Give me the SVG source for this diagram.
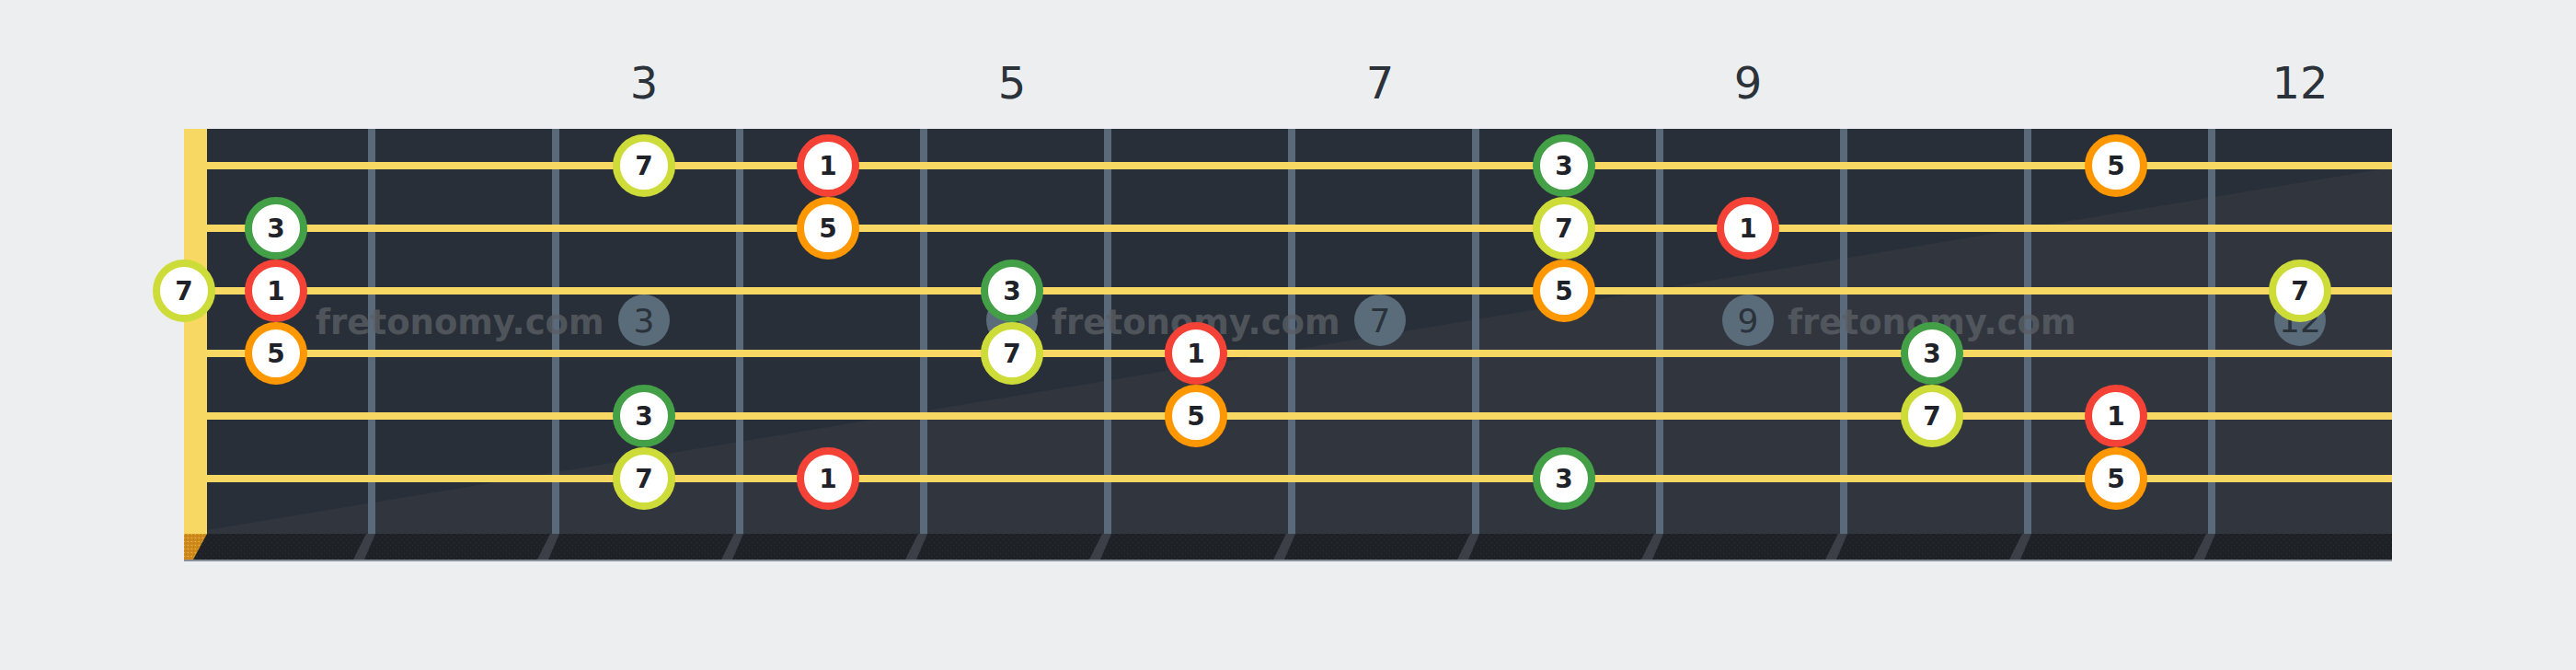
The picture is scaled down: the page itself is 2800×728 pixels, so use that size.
<svg xmlns="http://www.w3.org/2000/svg" width="2800" height="728" viewBox="0 0 2800 728">
<style>
.str{stroke:#f7d862;stroke-width:8}
.fret{fill:#5a6a7a}
.fshadow{fill:#3c4046}
.fnum{font-family:"DejaVu Sans",sans-serif;font-size:48px;fill:#2b323a;text-anchor:middle}
.wm{font-family:"DejaVu Sans",sans-serif;font-weight:bold;font-size:37px;fill:#5a5f66;fill-opacity:0.8}
.mk circle{fill:#5a6b7a}
.mk text{font-family:"DejaVu Sans",sans-serif;font-size:36px;fill:#2a323b;text-anchor:middle}
.note circle{fill:#ffffff;stroke-width:8}
.note text{font-family:"DejaVu Sans",sans-serif;font-weight:bold;font-size:28px;fill:#1f2329;text-anchor:middle}
.n1 circle{stroke:#f44336}
.n3 circle{stroke:#43a047}
.n5 circle{stroke:#ff9800}
.n7 circle{stroke:#cddc39}
</style>
<defs>
<pattern id="dots" width="6" height="6" patternUnits="userSpaceOnUse">
<rect width="6" height="6" fill="#1e2226"/>
<rect x="1" y="1" width="1" height="1" fill="#2c3036"/>
<rect x="4" y="4" width="1" height="1" fill="#2c3036"/>
</pattern>
<pattern id="wood" width="4" height="4" patternUnits="userSpaceOnUse">
<rect width="4" height="4" fill="#d08a1c"/>
<rect x="0" y="0" width="1" height="1" fill="#e8b830"/>
<rect x="2" y="2" width="1" height="1" fill="#b87420"/>
<rect x="3" y="0" width="1" height="1" fill="#c9a030"/>
</pattern>
</defs>
<rect width="2800" height="728" fill="#edeef0"/>
<g id="board">
<rect x="225" y="140" width="2375" height="440" fill="#292f38"/>
<polygon points="225,576 2600,182 2600,580 225,580" fill="#31363e"/>
<rect x="200" y="580" width="2400" height="28" fill="url(#dots)"/>
<rect x="200" y="608" width="2400" height="2" fill="#8a9099"/>
<polygon points="200,580 225,580 210,608 200,608" fill="url(#wood)"/>
</g>
<g id="frets">
<rect class="fret" x="400" y="140" width="8" height="440"/>
<rect class="fret" x="600" y="140" width="8" height="440"/>
<rect class="fret" x="800" y="140" width="8" height="440"/>
<rect class="fret" x="1000" y="140" width="8" height="440"/>
<rect class="fret" x="1200" y="140" width="8" height="440"/>
<rect class="fret" x="1400" y="140" width="8" height="440"/>
<rect class="fret" x="1600" y="140" width="8" height="440"/>
<rect class="fret" x="1800" y="140" width="8" height="440"/>
<rect class="fret" x="2000" y="140" width="8" height="440"/>
<rect class="fret" x="2200" y="140" width="8" height="440"/>
<rect class="fret" x="2400" y="140" width="8" height="440"/>
<polygon class="fshadow" points="398,580 408,580 396,608 384,608"/>
<polygon class="fshadow" points="598,580 608,580 596,608 584,608"/>
<polygon class="fshadow" points="798,580 808,580 796,608 784,608"/>
<polygon class="fshadow" points="998,580 1008,580 996,608 984,608"/>
<polygon class="fshadow" points="1198,580 1208,580 1196,608 1184,608"/>
<polygon class="fshadow" points="1398,580 1408,580 1396,608 1384,608"/>
<polygon class="fshadow" points="1598,580 1608,580 1596,608 1584,608"/>
<polygon class="fshadow" points="1798,580 1808,580 1796,608 1784,608"/>
<polygon class="fshadow" points="1998,580 2008,580 1996,608 1984,608"/>
<polygon class="fshadow" points="2198,580 2208,580 2196,608 2184,608"/>
<polygon class="fshadow" points="2398,580 2408,580 2396,608 2384,608"/>
</g>
<g id="fret-numbers">
<text class="fnum" x="700" y="107">3</text>
<text class="fnum" x="1100" y="107">5</text>
<text class="fnum" x="1500" y="107">7</text>
<text class="fnum" x="1900" y="107">9</text>
<text class="fnum" x="2500" y="107">12</text>
</g>
<g id="markers">
<g class="mk"><circle cx="700" cy="348" r="28"/><text x="700" y="361">3</text></g>
<g class="mk"><circle cx="1100" cy="348" r="28"/><text x="1100" y="361">5</text></g>
<g class="mk"><circle cx="1500" cy="348" r="28"/><text x="1500" y="361">7</text></g>
<g class="mk"><circle cx="1900" cy="348" r="28"/><text x="1900" y="361">9</text></g>
<g class="mk"><circle cx="2500" cy="348" r="28"/><text x="2500" y="361">12</text></g>
</g>
<g id="watermarks">
<text class="wm" x="343" y="363">fretonomy.com</text>
<text class="wm" x="1143" y="363">fretonomy.com</text>
<text class="wm" x="1943" y="363">fretonomy.com</text>
</g>
<g id="strings">
<line class="str" x1="225" y1="180" x2="2600" y2="180"/>
<line class="str" x1="225" y1="248" x2="2600" y2="248"/>
<line class="str" x1="225" y1="316" x2="2600" y2="316"/>
<line class="str" x1="225" y1="384" x2="2600" y2="384"/>
<line class="str" x1="225" y1="452" x2="2600" y2="452"/>
<line class="str" x1="225" y1="520" x2="2600" y2="520"/>
</g>
<rect id="nut" x="200" y="140" width="25" height="440" fill="#f7d862"/>
<g id="notes">
<g id="s1f3" class="note n7"><circle cx="700" cy="180" r="30"/><text x="700" y="190">7</text></g>
<g id="s1f4" class="note n1"><circle cx="900" cy="180" r="30"/><text x="900" y="190">1</text></g>
<g id="s1f8" class="note n3"><circle cx="1700" cy="180" r="30"/><text x="1700" y="190">3</text></g>
<g id="s1f11" class="note n5"><circle cx="2300" cy="180" r="30"/><text x="2300" y="190">5</text></g>
<g id="s2f1" class="note n3"><circle cx="300" cy="248" r="30"/><text x="300" y="258">3</text></g>
<g id="s2f4" class="note n5"><circle cx="900" cy="248" r="30"/><text x="900" y="258">5</text></g>
<g id="s2f8" class="note n7"><circle cx="1700" cy="248" r="30"/><text x="1700" y="258">7</text></g>
<g id="s2f9" class="note n1"><circle cx="1900" cy="248" r="30"/><text x="1900" y="258">1</text></g>
<g id="s3f0" class="note n7"><circle cx="200" cy="316" r="30"/><text x="200" y="326">7</text></g>
<g id="s3f1" class="note n1"><circle cx="300" cy="316" r="30"/><text x="300" y="326">1</text></g>
<g id="s3f5" class="note n3"><circle cx="1100" cy="316" r="30"/><text x="1100" y="326">3</text></g>
<g id="s3f8" class="note n5"><circle cx="1700" cy="316" r="30"/><text x="1700" y="326">5</text></g>
<g id="s3f12" class="note n7"><circle cx="2500" cy="316" r="30"/><text x="2500" y="326">7</text></g>
<g id="s4f1" class="note n5"><circle cx="300" cy="384" r="30"/><text x="300" y="394">5</text></g>
<g id="s4f5" class="note n7"><circle cx="1100" cy="384" r="30"/><text x="1100" y="394">7</text></g>
<g id="s4f6" class="note n1"><circle cx="1300" cy="384" r="30"/><text x="1300" y="394">1</text></g>
<g id="s4f10" class="note n3"><circle cx="2100" cy="384" r="30"/><text x="2100" y="394">3</text></g>
<g id="s5f3" class="note n3"><circle cx="700" cy="452" r="30"/><text x="700" y="462">3</text></g>
<g id="s5f6" class="note n5"><circle cx="1300" cy="452" r="30"/><text x="1300" y="462">5</text></g>
<g id="s5f10" class="note n7"><circle cx="2100" cy="452" r="30"/><text x="2100" y="462">7</text></g>
<g id="s5f11" class="note n1"><circle cx="2300" cy="452" r="30"/><text x="2300" y="462">1</text></g>
<g id="s6f3" class="note n7"><circle cx="700" cy="520" r="30"/><text x="700" y="530">7</text></g>
<g id="s6f4" class="note n1"><circle cx="900" cy="520" r="30"/><text x="900" y="530">1</text></g>
<g id="s6f8" class="note n3"><circle cx="1700" cy="520" r="30"/><text x="1700" y="530">3</text></g>
<g id="s6f11" class="note n5"><circle cx="2300" cy="520" r="30"/><text x="2300" y="530">5</text></g>
</g>
</svg>
